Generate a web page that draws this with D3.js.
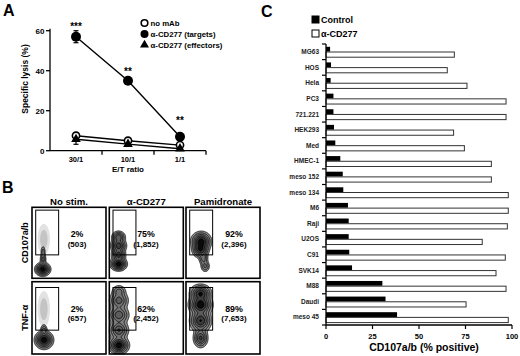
<!DOCTYPE html>
<html>
<head>
<meta charset="utf-8">
<script src="https://cdn.jsdelivr.net/npm/d3@7"></script>
<style>
  body { margin: 0; background: #fff; }
  svg { font-family: "Liberation Sans", Arial, sans-serif; font-weight: bold; }
</style>
</head>
<body>
<svg id="fig" width="520" height="356"></svg>
<script>
// ---------- Panel A: specific lysis ----------
const ratios = ["30/1", "10/1", "1/1"];
const lysisNoMab = [7.5, 5, 2.8];
const lysisTargets = [57, 35, 7];
const lysisEffectors = [5.7, 3.3, 1];
const errNoMab = [1.5, 1, 0.8];
const errTargets = [3, 1, 1.5];
const errEffectors = [2.5, 1, 0.5];
const signifMarks = ["***", "**", "**"];
const signifLevel = [63, 40.5, 16];
const lysisTicks = [0, 20, 40, 60];

// ---------- Panel B: flow plots ----------
const stimLabels = ["No stim.", "α-CD277", "Pamidronate"];
const markerLabels = ["CD107a/b", "TNF-α"];
const pctPositive = [["2%", "75%", "92%"], ["2%", "62%", "89%"]];
const cellCounts = [["(503)", "(1,852)", "(2,396)"], ["(657)", "(2,452)", "(7,653)"]];
// gate per row, plot units (0-100): x0, y0, x1, y1
const gates = [[5, 33, 36, 96], [5, 33, 36, 92]];
// cell populations per plot: [cx, cy, sx, sy, weight] in plot units
// (weight < 0.05 = sparse scattered events)
const populations = [
  [
    [[14.5, 12.7, 4.6, 4.2, 1], [15, 27, 2, 4.5, 0.3], [15, 38, 1.6, 4, 0.18], [16, 55, 5, 13, 0.02]],
    [[12.5, 20, 5, 4.2, 1], [12.5, 33, 4.3, 4.5, 0.7], [12.5, 46, 4.8, 4.5, 0.75], [12.5, 58, 4.3, 4, 0.55]],
    [[20.5, 52, 6, 6, 1], [19.5, 40, 5, 5, 0.8], [23.5, 28, 3, 4.5, 0.35], [26, 17, 3, 4, 0.3]]
  ],
  [
    [[16.2, 19.4, 5.5, 5.5, 1], [16, 33, 2.2, 4, 0.3], [16, 62, 5, 15, 0.02]],
    [[13, 12, 6, 5.5, 1], [13, 33, 6, 6, 0.6], [13, 54, 6.3, 6, 0.55], [13, 74, 6, 6, 0.5], [13, 87, 4.5, 4, 0.3]],
    [[19.7, 22, 4.5, 6, 0.55], [19.7, 46, 6.5, 7, 0.7], [19.7, 68, 7, 6.5, 0.85], [19.7, 84, 6.5, 5.5, 0.7]]
  ]
];

// ---------- Panel C: CD107a/b per cell line ----------
const cellLines = ["MG63", "HOS", "Hela", "PC3", "721.221", "HEK293", "Med", "HMEC-1",
  "meso 152", "meso 134", "M6", "Raji", "U2OS", "C91", "SVK14", "M88", "Daudi", "meso 45"];
const controlPct = [2.2, 2.7, 2.5, 4, 4, 4.3, 5, 7.7, 9, 9.3, 11.8, 12.2, 12.2, 12.5, 14, 30.3, 32, 38.2];
const cd277Pct = [69, 65.2, 75.8, 96.8, 96.8, 68.6, 74.4, 88.9, 88.9, 98, 98, 97.5, 84, 96.4, 91.4, 96.8, 75.3, 98];
const pctTicks = [0, 25, 50, 75, 100];

const svg = d3.select("#fig");

function panelLetter(txt, x, y) {
  svg.append("text").attr("x", x).attr("y", y)
    .attr("font-size", 16).text(txt);
}

// ===== Panel A =====
panelLetter("A", 3, 16);

const xA = d3.scaleBand().domain(ratios).range([50, 206]);
const yA = d3.scaleLinear().domain([0, 60]).range([150.7, 30.7]);
const gA = svg.append("g");

gA.append("line").attr("x1", 50).attr("x2", 50).attr("y1", yA(61)).attr("y2", yA(0))
  .attr("stroke", "#000").attr("stroke-width", 1.3);
gA.append("line").attr("x1", 50).attr("x2", 206).attr("y1", yA(0)).attr("y2", yA(0))
  .attr("stroke", "#000").attr("stroke-width", 1.3);
gA.selectAll(".ytk").data(lysisTicks).join("line")
  .attr("x1", 46).attr("x2", 50).attr("y1", d => yA(d)).attr("y2", d => yA(d))
  .attr("stroke", "#000").attr("stroke-width", 1.3);
gA.selectAll(".ylab").data(lysisTicks).join("text")
  .attr("x", 44.5).attr("y", d => yA(d) + 3).attr("text-anchor", "end")
  .attr("font-size", 8).text(d => d);
const bounds = ratios.map(r => xA(r) + xA.bandwidth());
gA.selectAll(".xtk").data(bounds).join("line")
  .attr("x1", d => d).attr("x2", d => d).attr("y1", yA(0)).attr("y2", yA(0) + 4)
  .attr("stroke", "#000").attr("stroke-width", 1.3);
gA.selectAll(".xlab").data(ratios).join("text")
  .attr("x", d => xA(d) + xA.bandwidth() / 2).attr("y", 162)
  .attr("text-anchor", "middle").attr("font-size", 7.5).text(d => d);
gA.append("text").attr("x", 128).attr("y", 171.5).attr("text-anchor", "middle")
  .attr("font-size", 8).text("E/T ratio");
gA.append("text").attr("transform", "translate(28,79) rotate(-90)")
  .attr("text-anchor", "middle").attr("font-size", 8.5).text("Specific lysis (%)");

const cx = r => xA(r) + xA.bandwidth() / 2;
const seriesA = [
  { vals: lysisNoMab, err: errNoMab, shape: "open" },
  { vals: lysisEffectors, err: errEffectors, shape: "tri" },
  { vals: lysisTargets, err: errTargets, shape: "fill" }
];
const lineA = d3.line().x((d, i) => cx(ratios[i])).y(d => yA(d));
seriesA.forEach(s => {
  gA.append("path").attr("d", lineA(s.vals)).attr("fill", "none")
    .attr("stroke", "#000").attr("stroke-width", 1.4);
  s.vals.forEach((v, i) => {
    gA.append("line").attr("x1", cx(ratios[i])).attr("x2", cx(ratios[i]))
      .attr("y1", yA(v - s.err[i])).attr("y2", yA(v + s.err[i]))
      .attr("stroke", "#000").attr("stroke-width", 1.2);
    [v - s.err[i], v + s.err[i]].forEach(e => {
      gA.append("line").attr("x1", cx(ratios[i]) - 2.5).attr("x2", cx(ratios[i]) + 2.5)
        .attr("y1", yA(e)).attr("y2", yA(e)).attr("stroke", "#000").attr("stroke-width", 1.2);
    });
  });
});
function marker(g, shape, x, y, r) {
  if (shape === "tri") {
    g.append("path").attr("d", d3.symbol(d3.symbolTriangle, r * r * 2.2)())
      .attr("transform", `translate(${x},${y})`).attr("fill", "#000");
  } else if (shape === "open") {
    g.append("circle").attr("cx", x).attr("cy", y).attr("r", r - 0.7)
      .attr("fill", "#fff").attr("stroke", "#000").attr("stroke-width", 1.6);
  } else {
    g.append("circle").attr("cx", x).attr("cy", y).attr("r", r).attr("fill", "#000");
  }
}
seriesA.forEach(s => {
  s.vals.forEach((v, i) => marker(gA, s.shape, cx(ratios[i]), yA(v), s.shape === "fill" ? 5 : 4.3));
});
gA.selectAll(".sig").data(signifMarks).join("text")
  .attr("x", (d, i) => cx(ratios[i])).attr("y", (d, i) => yA(signifLevel[i]) + 5.5)
  .attr("text-anchor", "middle").attr("font-size", 10).text(d => d);

const legA = [["open", "no mAb"], ["fill", "α-CD277 (targets)"], ["tri", "α-CD277 (effectors)"]];
legA.forEach((l, i) => {
  const y = 23 + i * 11;
  marker(gA, l[0], 144.5, y, 4);
  gA.append("text").attr("x", 150.5).attr("y", y + 3).attr("font-size", 7.8).text(l[1]);
});

// ===== Panel B =====
panelLetter("B", 2, 193);
const colX = [32, 109.3, 186];
const rowY = [207.3, 281.7];
const boxW = 74, boxH = [71, 72.3];
const textX = [77, 146, 234];
const levels = [0.05, 0.13, 0.25, 0.4, 0.58, 0.8];
const fills = ["#8e8e8e", "#828282", "#727272", "#5c5c5c", "#3c3c3c", "#0a0a0a"];
const gB = svg.append("g");

stimLabels.forEach((t, c) => {
  gB.append("text").attr("x", colX[c] + boxW / 2).attr("y", 204.5)
    .attr("text-anchor", "middle").attr("font-size", 9.6).text(t);
});
markerLabels.forEach((t, r) => {
  gB.append("text").attr("transform", `translate(27.5,${rowY[r] + boxH[r] / 2}) rotate(-90)`)
    .attr("text-anchor", "middle").attr("font-size", 9).text(t);
});

function densityGrid(comps, px, py, nx, ny, k) {
  const grid = new Float64Array(nx * ny);
  for (let j = 0; j < ny; j++) {
    const uy = py.invert((j + 0.5) / k);
    for (let i = 0; i < nx; i++) {
      const ux = px.invert((i + 0.5) / k);
      let s = 0;
      comps.forEach(p => {
        const dx = (ux - p[0]) / p[2], dy = (uy - p[1]) / p[3];
        s += p[4] * Math.exp(-0.5 * (dx * dx + dy * dy));
      });
      grid[j * nx + i] = s;
    }
  }
  return grid;
}

populations.forEach((row, r) => {
  row.forEach((comps, c) => {
    const x0 = colX[c], y0 = rowY[r], w = boxW, h = boxH[r];
    const px = d3.scaleLinear().domain([0, 100]).range([0, w]);
    const py = d3.scaleLinear().domain([0, 100]).range([h, 0]);
    const k = 3, nx = Math.round(w * k), ny = Math.round(h * k);
    const path = d3.geoPath(d3.geoIdentity().scale(1 / k));
    const g = gB.append("g").attr("transform", `translate(${x0},${y0})`);

    // sparse events: light grey cloud
    const sparse = comps.filter(p => p[4] < 0.05);
    if (sparse.length) {
      const sg = densityGrid(sparse, px, py, nx, ny, k);
      const smx = d3.max(sg);
      const sc = d3.contours().size([nx, ny]).thresholds([0.25 * smx, 0.6 * smx])(sg);
      g.selectAll(".sp").data(sc).join("path").attr("class", "sp")
        .attr("d", path).attr("fill", (d, i) => i ? "#c4c4c4" : "#e2e2e2");
    }

    const dense = comps.filter(p => p[4] >= 0.05);
    const grid = densityGrid(dense, px, py, nx, ny, k);
    const mx = d3.max(grid);
    const contours = d3.contours().size([nx, ny]).thresholds(levels.map(l => l * mx))(grid);
    g.selectAll(".ct").data(contours).join("path").attr("class", "ct")
      .attr("d", path)
      .attr("fill", (d, i) => fills[i])
      .attr("stroke", "#000")
      .attr("stroke-width", 0.8);

    const gt = gates[r];
    g.append("rect").attr("x", px(gt[0])).attr("y", py(gt[3]))
      .attr("width", px(gt[2]) - px(gt[0])).attr("height", py(gt[1]) - py(gt[3]))
      .attr("fill", "none").attr("stroke", "#000").attr("stroke-width", 1);
    g.append("rect").attr("width", w).attr("height", h)
      .attr("fill", "none").attr("stroke", "#000").attr("stroke-width", 1.6);
    gB.append("text").attr("x", textX[c]).attr("y", y0 + 29.8)
      .attr("text-anchor", "middle").attr("font-size", 8.8).text(pctPositive[r][c]);
    gB.append("text").attr("x", textX[c]).attr("y", y0 + 39.3)
      .attr("text-anchor", "middle").attr("font-size", 8).text(cellCounts[r][c]);
  });
});

// ===== Panel C =====
panelLetter("C", 261, 17);
const xC = d3.scaleLinear().domain([0, 100]).range([326, 512]);
const yC = d3.scaleBand().domain(cellLines).range([44, 325]);
const gC = svg.append("g");
const bw = yC.bandwidth();

gC.selectAll(".ctrl").data(cellLines).join("rect")
  .attr("x", xC(0)).attr("y", d => yC(d) + 2.8)
  .attr("width", (d, i) => xC(controlPct[i]) - xC(0)).attr("height", 4.8)
  .attr("fill", "#000");
gC.selectAll(".cd277").data(cellLines).join("rect")
  .attr("x", xC(0)).attr("y", d => yC(d) + 8)
  .attr("width", (d, i) => xC(cd277Pct[i]) - xC(0)).attr("height", 5.2)
  .attr("fill", "#fff").attr("stroke", "#333").attr("stroke-width", 1);

gC.append("line").attr("x1", xC(0)).attr("x2", xC(0)).attr("y1", 44).attr("y2", 325)
  .attr("stroke", "#000").attr("stroke-width", 1.3);
gC.append("line").attr("x1", xC(0)).attr("x2", xC(100)).attr("y1", 325).attr("y2", 325)
  .attr("stroke", "#000").attr("stroke-width", 1.3);
const yTicksC = cellLines.map(d => yC(d)).concat([325]);
gC.selectAll(".ctk").data(yTicksC).join("line")
  .attr("x1", xC(0) - 4).attr("x2", xC(0)).attr("y1", d => d).attr("y2", d => d)
  .attr("stroke", "#000").attr("stroke-width", 1.2);
gC.selectAll(".clab").data(cellLines).join("text")
  .attr("x", 319).attr("y", d => yC(d) + bw / 2 + 2.3).attr("text-anchor", "end")
  .attr("font-size", 6.5).attr("fill", "#222").text(d => d);
gC.selectAll(".xtkC").data(pctTicks).join("line")
  .attr("x1", d => xC(d)).attr("x2", d => xC(d)).attr("y1", 325).attr("y2", 329)
  .attr("stroke", "#000").attr("stroke-width", 1.2);
gC.selectAll(".xlabC").data(pctTicks).join("text")
  .attr("x", d => xC(d)).attr("y", 338.5).attr("text-anchor", "middle")
  .attr("font-size", 7.5).text(d => d);
gC.append("text").attr("x", 424).attr("y", 351).attr("text-anchor", "middle")
  .attr("font-size", 10.5).text("CD107a/b (% positive)");

[["#000", "Control"], ["#fff", "α-CD277"]].forEach((l, i) => {
  const y = 16 + i * 14;
  gC.append("rect").attr("x", 312).attr("y", y).attr("width", 7).attr("height", 7)
    .attr("fill", l[0]).attr("stroke", "#000").attr("stroke-width", 1);
  gC.append("text").attr("x", 321).attr("y", y + 6.8).attr("font-size", 9).text(l[1]);
});
</script>
</body>
</html>
